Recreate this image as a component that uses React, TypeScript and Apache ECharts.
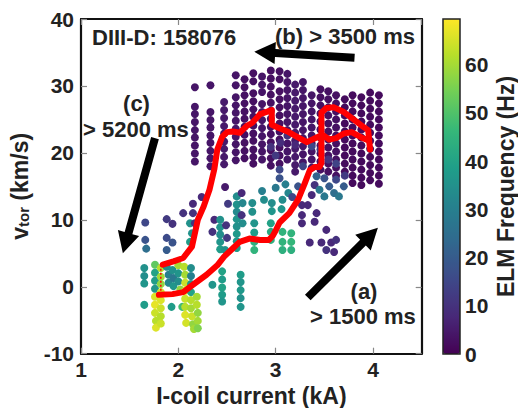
import React, { useEffect, useRef } from "react";
import * as echarts from "echarts";

const FONT = '"Liberation Sans", Arial, sans-serif';
const TXT = "#222222";

const X_MIN = 1;
const X_MAX = 4.5;
const Y_MIN = -10;
const Y_MAX = 40;
const F_MAX = 69.5;

const viridis = ["#440154", "#482878", "#3e4989", "#31688e", "#26828e", "#1f9e89", "#35b779", "#6ece58", "#b5de2b", "#fde725"];

// Upper (low-ELM-frequency) cluster, one column per I-coil setting: [I-coil (kA), ELM freq (Hz), ...v_tor (km/s)]
const topColumns: number[][] = [
  [2.17, 4, 29.8, 26.9, 25.8, 24.6, 23.4, 22.3, 21.1, 19.9, 18.7],
  [2.33, 4, 30.1, 26.1, 24.9, 23.8, 22.6, 21.5, 20.3, 19.2, 18.0],
  [2.47, 5, 27.6, 26.4, 25.2, 24.0, 22.9, 21.7, 20.6, 19.4, 18.3],
  [2.59, 4, 31.6, 30.1, 28.3, 27.1, 26.0, 24.8, 23.6, 22.4, 21.3, 20.1, 18.9],
  [2.68, 3, 31.0, 29.8, 28.6, 27.4, 26.2, 25.1, 23.9, 22.7, 21.5, 20.3, 19.2],
  [2.77, 3, 31.9, 30.7, 28.9, 27.7, 26.5, 25.4, 24.1, 22.9, 21.8, 20.5, 19.4, 18.4],
  [2.86, 4, 31.4, 30.2, 29.1, 27.3, 26.1, 24.9, 23.7, 22.5, 21.3, 20.2, 19.0],
  [2.95, 3, 32.3, 31.1, 29.9, 28.7, 27.5, 26.3, 25.1, 23.9, 22.8, 21.6, 20.4, 19.2, 18.1],
  [3.04, 3, 32.2, 31.0, 29.2, 28.0, 26.8, 25.6, 24.4, 23.2, 22.0, 20.8, 19.6, 18.4],
  [3.12, 4, 31.8, 30.6, 29.4, 28.2, 27.0, 25.8, 24.6, 23.4, 21.4, 20.2, 19.0],
  [3.2, 5, 30.2, 29.0, 27.8, 26.6, 25.4, 24.2, 23.0, 21.8, 20.6, 19.4, 18.2, 17.2],
  [3.28, 4, 30.6, 29.4, 28.2, 27.0, 25.8, 24.6, 23.4, 22.2, 21.0, 19.8, 18.6],
  [3.37, 4, 28.6, 27.4, 26.2, 25.0, 23.8, 22.6, 21.4, 20.2, 19.0, 17.8],
  [3.46, 3, 29.5, 28.3, 27.1, 25.9, 24.7, 23.5, 22.3, 21.1, 19.9, 18.7, 17.5],
  [3.54, 3, 29.2, 28.0, 26.8, 25.6, 24.4, 23.2, 22.0, 20.8, 19.6, 18.4, 17.2],
  [3.62, 3, 28.6, 27.4, 26.2, 25.0, 23.8, 22.6, 21.4, 20.2, 19.0, 17.8, 16.6],
  [3.71, 2, 28.0, 26.8, 25.6, 24.4, 23.2, 22.0, 20.8, 19.6, 18.4, 17.2],
  [3.79, 2, 28.6, 27.4, 26.2, 25.0, 23.8, 22.6, 21.4, 20.2, 19.0, 17.8, 16.6, 15.5],
  [3.88, 2, 28.3, 27.1, 25.9, 24.7, 23.5, 22.3, 21.1, 19.9, 18.7, 17.5, 16.3, 15.2],
  [3.97, 2, 29.0, 27.8, 26.6, 25.4, 24.2, 23.0, 21.8, 20.6, 19.4, 18.2, 17.0, 15.9],
  [4.06, 2, 28.6, 27.4, 26.2, 25.0, 23.8, 22.6, 21.4, 20.2, 19.0, 17.8, 16.6, 15.4],
];

// Slightly higher-frequency points inside the upper cluster: [I-coil, v_tor, freq]
const topExtras: number[][] = [
  [3.0, 19.6, 12], [3.12, 22.6, 10], [3.28, 18.0, 14], [3.46, 20.5, 12], [3.54, 19.0, 10],
  [3.2, 21.2, 8], [3.37, 21.0, 15], [2.95, 20.9, 10], [3.62, 18.4, 14], [3.71, 16.6, 12], [3.05, 21.5, 9],
];

// Middle band: [I-coil, v_tor, freq]
const midPoints: number[][] = [
  [1.66, 9.6, 15], [1.66, 7.0, 18], [1.67, 5.7, 25],
  [1.88, 10.1, 12], [1.94, 9.4, 10], [1.88, 7.3, 16], [1.94, 6.6, 18], [1.88, 5.5, 20],
  [2.05, 11.0, 10], [2.15, 12.4, 8], [2.15, 11.0, 10], [2.12, 9.5, 35], [2.14, 8.0, 35], [2.12, 6.7, 38], [2.17, 9.5, 10],
  [2.24, 13.4, 8], [2.37, 10.0, 8], [2.35, 8.2, 10],
  [2.43, 10.0, 35], [2.43, 8.9, 36], [2.43, 7.8, 34], [2.43, 6.7, 36], [2.43, 5.6, 38],
  [2.49, 9.2, 10], [2.5, 7.3, 12], [2.51, 12.4, 12], [2.48, 14.9, 5], [2.48, 5.5, 35],
  [2.6, 13.5, 34], [2.6, 12.3, 35], [2.6, 11.2, 33], [2.6, 10.1, 36], [2.6, 9.0, 35], [2.6, 7.9, 37], [2.6, 6.8, 36], [2.6, 5.8, 38],
  [2.65, 14.0, 8], [2.66, 12.5, 32], [2.65, 10.7, 10], [2.66, 9.5, 34],
  [2.76, 12.5, 34], [2.76, 11.2, 35], [2.78, 9.5, 36], [2.78, 8.1, 38], [2.78, 6.7, 44], [2.78, 5.5, 45],
  [2.86, 14.3, 30], [2.88, 13.0, 34], [3.0, 14.8, 28], [3.1, 15.3, 30], [3.13, 14.0, 32],
  [2.96, 12.5, 34], [2.96, 11.3, 36], [2.95, 9.5, 40], [2.95, 8.2, 42], [2.95, 7.0, 44],
  [3.07, 13.0, 34], [3.06, 11.6, 36], [3.07, 8.2, 45], [3.07, 6.7, 45], [3.07, 5.5, 44],
  [3.16, 8.0, 45], [3.16, 6.7, 46], [3.16, 5.5, 44],
  [3.17, 13.4, 15], [3.23, 15.0, 18], [3.27, 12.2, 8], [3.27, 10.7, 8], [3.33, 12.2, 8], [3.37, 13.7, 8], [3.4, 15.2, 10], [3.42, 11.0, 8], [3.35, 6.6, 8],
  [3.04, 17.5, 15], [3.04, 16.2, 18],
  [3.27, 9.5, 8], [3.4, 9.7, 8], [3.47, 6.6, 8], [3.52, 8.5, 8], [3.57, 6.6, 8], [3.52, 5.5, 10], [3.6, 5.2, 8], [3.62, 7.0, 10],
  [3.42, 16.5, 22], [3.45, 14.5, 28], [3.5, 13.5, 28], [3.55, 15.0, 20], [3.6, 14.0, 25], [3.65, 13.5, 28], [3.5, 16.2, 18], [3.62, 16.0, 15], [3.7, 15.0, 20],
];

// Lower band (high ELM frequency): [I-coil, v_tor, freq]
const lowPoints: number[][] = [
  [1.65, 2.8, 35], [1.65, 1.6, 34], [1.65, 0.5, 36], [1.65, -2.7, 38],
  [1.76, 3.3, 52], [1.76, 2.1, 40], [1.76, 0.9, 38], [1.76, -0.3, 36], [1.76, -1.5, 66], [1.76, -2.7, 67], [1.76, -3.9, 64], [1.77, -5.1, 62], [1.77, -6.1, 66],
  [1.82, 2.8, 62], [1.82, 1.5, 60], [1.82, 0.4, 58], [1.82, -0.8, 65], [1.82, -2.0, 66], [1.82, -3.2, 64], [1.82, -4.4, 62], [1.82, -5.5, 64],
  [1.88, 3.0, 34], [1.9, 1.8, 30], [1.9, 0.6, 32], [1.94, 2.5, 35], [1.95, 1.3, 28], [1.95, 0.1, 36], [1.93, -3.0, 38],
  [2.0, 3.2, 60], [2.0, 2.0, 36], [2.0, 0.8, 34], [2.02, -0.4, 58], [2.04, -3.0, 48],
  [2.06, 3.0, 62], [2.07, 1.8, 60], [2.07, 0.6, 64], [2.07, -0.6, 66], [2.07, -1.8, 64], [2.07, -3.0, 62], [2.07, -4.2, 66], [2.08, -5.4, 65],
  [2.13, 2.8, 34], [2.13, 1.6, 30], [2.13, 0.4, 36], [2.13, -0.8, 40], [2.13, -2.0, 62], [2.13, -3.2, 60], [2.14, -4.4, 64], [2.15, -5.6, 58], [2.16, -6.3, 60],
  [2.19, -1.5, 60], [2.19, -2.7, 62], [2.2, -3.9, 58], [2.2, -5.1, 60], [2.2, -6.2, 56],
  [2.35, 0.3, 36],
  [2.45, 2.3, 40], [2.45, 1.1, 38], [2.45, -0.1, 40], [2.45, -1.2, 38], [2.45, -2.2, 36],
  [2.64, 1.8, 38], [2.64, 0.7, 36], [2.64, -0.5, 37], [2.64, -1.7, 35], [2.64, -3.0, 36],
];

// Time trajectory (red)
const trajX = [1.80, 1.94, 2.05, 2.15, 2.29, 2.40, 2.47, 2.55, 2.63, 2.73, 2.84, 2.93, 2.97, 3.00, 3.04, 3.14, 3.23, 3.30, 3.35, 3.40, 3.45, 3.47, 3.47, 3.52, 3.60, 3.70, 3.80, 3.90, 3.95, 3.97, 3.96, 3.88, 3.78, 3.70, 3.62, 3.55, 3.48, 3.42, 3.32, 3.22, 3.12, 3.02, 2.96, 2.96, 2.90, 2.84, 2.76, 2.70, 2.63, 2.56, 2.50, 2.45, 2.40, 2.37, 2.32, 2.26, 2.20, 2.14, 2.05, 1.95, 1.84];
const trajY = [-1.2, -1.1, -0.8, 0.3, 1.8, 3.2, 4.5, 5.6, 6.7, 7.2, 7.0, 7.0, 7.6, 8.4, 9.6, 11.0, 13.0, 15.5, 17.4, 17.9, 17.9, 18.5, 26.0, 26.7, 26.8, 26.1, 25.0, 23.9, 23.4, 20.5, 21.8, 22.3, 23.1, 22.9, 22.2, 22.0, 22.7, 22.3, 21.6, 22.4, 23.2, 23.8, 24.2, 26.4, 26.1, 25.8, 24.5, 24.0, 23.0, 23.2, 23.1, 22.4, 20.5, 17.6, 14.5, 12.0, 10.0, 6.0, 4.3, 3.8, 3.3];
const hatchX = [1.82, 1.82];
const hatchY = [3.3, -1.2];

// Arrows: [tailX, tailY, tipX, tipY]
const arrows: number[][] = [
  [3.33, -1.6, 4.05, 8.8],
  [3.81, 34.2, 2.78, 35.1],
  [1.76, 22.2, 1.43, 5.0],
];

const labels = [
  { text: "DIII-D: 158076", x: 92, y: 37, align: "left" },
  { text: "(b) > 3500 ms", x: 275, y: 36, align: "left" },
  { text: "(c)", x: 136.5, y: 103, align: "center" },
  { text: "> 5200 ms", x: 83, y: 129.5, align: "left" },
  { text: "(a)", x: 364, y: 291, align: "center" },
  { text: "> 1500 ms", x: 310, y: 316, align: "left" },
];

export default function App() {
  const ref = useRef<HTMLDivElement>(null);
  useEffect(() => {
    if (!ref.current) return;
    const chart = echarts.init(ref.current, undefined, { renderer: "svg" });

    const scatterData: number[][] = [];
    topColumns.forEach((c) => c.slice(2).forEach((y) => scatterData.push([c[0], y, c[1]])));
    topExtras.forEach((p) => scatterData.push(p));
    midPoints.forEach((p) => scatterData.push(p));
    lowPoints.forEach((p) => scatterData.push(p));

    const axisLabel = { fontFamily: FONT, fontWeight: "bold", fontSize: 21, color: TXT };
    const tick = { show: true, inside: true, length: 6, lineStyle: { color: "#888", width: 1.2 } };
    const line = { show: true, onZero: false, lineStyle: { color: "#111", width: 2.2 } };

    const option: any = {
      animation: false,
      backgroundColor: "#fff",
      grid: [
        { left: 81, right: 96.3, top: 19, bottom: 54.3, outerBoundsMode: "none", containLabel: false },
        { left: 443, width: 17, top: 19, height: 335, show: true, borderColor: "#222", borderWidth: 1.5, backgroundColor: "transparent", z: 6, outerBoundsMode: "none" },
      ],
      xAxis: [
        {
          type: "value", gridIndex: 0, min: X_MIN, max: X_MAX, interval: 1, position: "bottom",
          axisLine: line, axisTick: tick, splitLine: { show: false },
          axisLabel: { ...axisLabel, margin: 5, showMaxLabel: false },
          name: "I-coil current (kA)", nameLocation: "middle", nameGap: 28,
          nameTextStyle: { fontFamily: FONT, fontWeight: "bold", fontSize: 23, color: TXT },
        },
        {
          type: "value", gridIndex: 0, min: X_MIN, max: X_MAX, interval: 1, position: "top",
          axisLine: line, axisTick: tick, splitLine: { show: false }, axisLabel: { show: false },
        },
        { type: "value", gridIndex: 1, min: 0, max: 1, show: false },
      ],
      yAxis: [
        {
          type: "value", gridIndex: 0, min: Y_MIN, max: Y_MAX, interval: 10, position: "left",
          axisLine: line, axisTick: tick, splitLine: { show: false },
          axisLabel: { ...axisLabel, margin: 7 },
          name: "{v|v}{s|tor}{v| (km/s)}", nameLocation: "middle", nameGap: 50,
          nameTextStyle: {
            color: TXT,
            rich: {
              v: { fontFamily: FONT, fontWeight: "bold", fontSize: 23, color: TXT, verticalAlign: "bottom" },
              s: { fontFamily: FONT, fontWeight: "bold", fontSize: 15, color: TXT, verticalAlign: "bottom" },
            },
          },
        },
        {
          type: "value", gridIndex: 0, min: Y_MIN, max: Y_MAX, interval: 10, position: "right",
          axisLine: line, axisTick: tick, splitLine: { show: false }, axisLabel: { show: false },
        },
        {
          type: "value", gridIndex: 1, min: 0, max: F_MAX, interval: 10, position: "right",
          axisLine: { show: false }, axisTick: { show: false }, splitLine: { show: false },
          axisLabel: { ...axisLabel, margin: 5, showMaxLabel: false },
          name: "ELM Frequency (Hz)", nameLocation: "middle", nameGap: 34,
          nameTextStyle: { fontFamily: FONT, fontWeight: "bold", fontSize: 23, color: TXT },
        },
      ],
      visualMap: {
        type: "continuous", min: 0, max: F_MAX, dimension: 2, seriesIndex: 0,
        inRange: { color: viridis }, calculable: false, hoverLink: false,
        left: 443, top: 19, itemWidth: 17, itemHeight: 335, padding: 0, text: null, showLabel: false,
        orient: "vertical",
      },
      series: [
        {
          type: "scatter", xAxisIndex: 0, yAxisIndex: 0, data: scatterData,
          symbol: "circle", symbolSize: 8, itemStyle: { opacity: 1 }, z: 2,
        },
        {
          type: "line", xAxisIndex: 0, yAxisIndex: 0,
          data: hatchX.map((x, i) => [x, hatchY[i]]),
          showSymbol: false, lineStyle: { color: "#ff0000", width: 1.5, type: [2, 2] }, z: 3,
        },
        {
          type: "line", xAxisIndex: 0, yAxisIndex: 0,
          data: trajX.map((x, i) => [x, trajY[i]]),
          showSymbol: false, smooth: false,
          lineStyle: { color: "#ff0000", width: 6, join: "round", cap: "round" }, z: 4,
        },
        {
          type: "custom", xAxisIndex: 0, yAxisIndex: 0, data: arrows, z: 5, clip: false,
          renderItem: (params: any, api: any) => {
            const p0 = api.coord([api.value(0), api.value(1)]);
            const p1 = api.coord([api.value(2), api.value(3)]);
            const dx = p1[0] - p0[0];
            const dy = p1[1] - p0[1];
            const len = Math.sqrt(dx * dx + dy * dy);
            const ux = dx / len, uy = dy / len;
            const nx = -uy, ny = ux;
            const sw = 4, hw = 11, hl = 21;
            const bx = p1[0] - ux * hl, by = p1[1] - uy * hl;
            const pts = [
              [p0[0] + nx * sw, p0[1] + ny * sw],
              [bx + nx * sw, by + ny * sw],
              [bx + nx * hw, by + ny * hw],
              [p1[0], p1[1]],
              [bx - nx * hw, by - ny * hw],
              [bx - nx * sw, by - ny * sw],
              [p0[0] - nx * sw, p0[1] - ny * sw],
            ];
            return { type: "polygon", shape: { points: pts }, style: { fill: "#000" } };
          },
        },
      ],
      graphic: labels.map((l) => ({
        type: "text", x: l.x, y: l.y, z: 100,
        style: { text: l.text, fill: TXT, font: `bold 22px ${FONT}`, align: l.align, verticalAlign: "middle" },
      })),
    };
    chart.setOption(option);
    return () => chart.dispose();
  }, []);
  return <div ref={ref} style={{ width: 518, height: 408, position: "absolute", left: 0, top: 0 }} />;
}
